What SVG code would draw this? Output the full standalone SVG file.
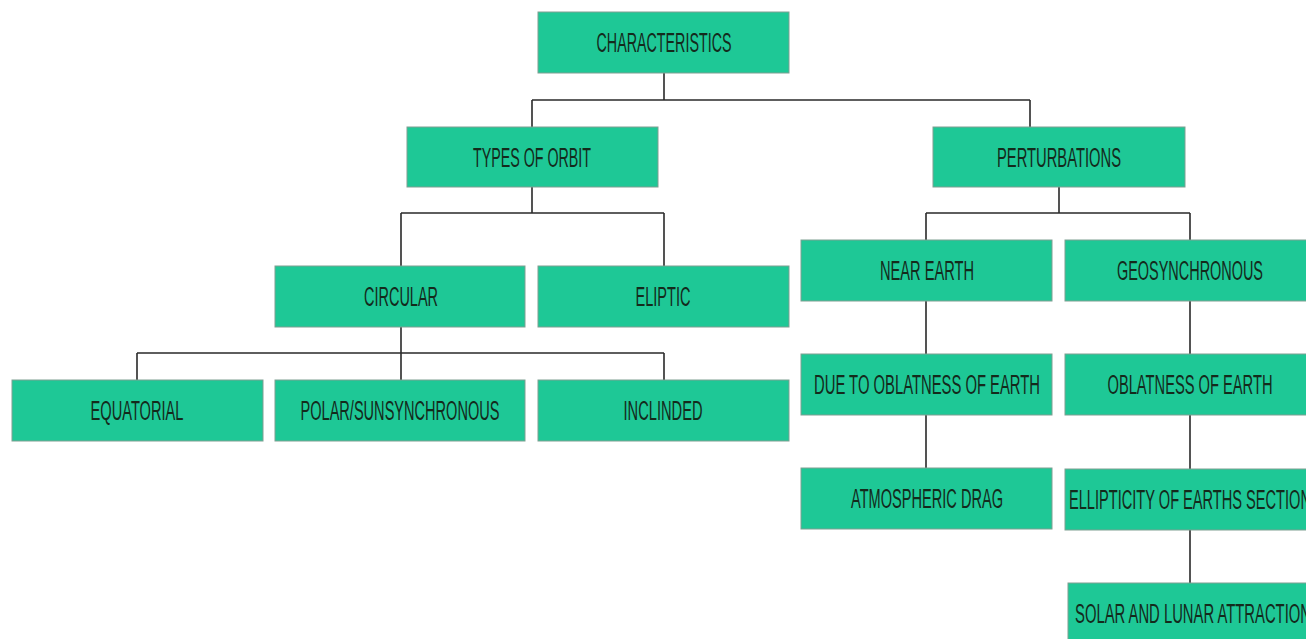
<svg xmlns="http://www.w3.org/2000/svg" width="1306" height="639" viewBox="0 0 1306 639">
<style>
.box{fill:#1ec896;stroke:#7f9f92;stroke-width:1}
.t{font-family:"Liberation Sans",Arial,sans-serif;font-size:27px;fill:#142a1c;text-anchor:middle}
.c{stroke:#2a2a2a;stroke-width:1.6;fill:none}
</style>
<rect width="1306" height="639" fill="#ffffff"/>
<g id="connectors">
<path class="c" d="M664 73V100M532 100H1030M532 100V127M1030 100V127"/>
<path class="c" d="M532 187V213M401 213H664M401 213V266M664 213V266"/>
<path class="c" d="M401 327V353M137 353H664M137 353V380M401 353V380M664 353V380"/>
<path class="c" d="M1059 187V213M926 213H1190M926 213V240M1190 213V240"/>
<path class="c" d="M926 301V354M926 415V468"/>
<path class="c" d="M1190 301V354M1190 415V469M1190 530V583"/>
</g>
<g id="characteristics"><rect class="box" x="538" y="12" width="251" height="61"/><text class="t" x="664" y="52" textLength="135" lengthAdjust="spacingAndGlyphs">CHARACTERISTICS</text></g>
<g id="types"><rect class="box" x="407" y="127" width="251" height="60"/><text class="t" x="532" y="167" textLength="118" lengthAdjust="spacingAndGlyphs">TYPES OF ORBIT</text></g>
<g id="perturbations"><rect class="box" x="933" y="127" width="252" height="60"/><text class="t" x="1059" y="167" textLength="124" lengthAdjust="spacingAndGlyphs">PERTURBATIONS</text></g>
<g id="circular"><rect class="box" x="275" y="266" width="250" height="61"/><text class="t" x="401" y="306" textLength="74" lengthAdjust="spacingAndGlyphs">CIRCULAR</text></g>
<g id="eliptic"><rect class="box" x="538" y="266" width="251" height="61"/><text class="t" x="663" y="306" textLength="55" lengthAdjust="spacingAndGlyphs">ELIPTIC</text></g>
<g id="equatorial"><rect class="box" x="12" y="380" width="251" height="61"/><text class="t" x="137" y="420" textLength="93" lengthAdjust="spacingAndGlyphs">EQUATORIAL</text></g>
<g id="polar"><rect class="box" x="275" y="380" width="250" height="61"/><text class="t" x="400" y="420" textLength="199" lengthAdjust="spacingAndGlyphs">POLAR/SUNSYNCHRONOUS</text></g>
<g id="inclinded"><rect class="box" x="538" y="380" width="251" height="61"/><text class="t" x="663" y="420" textLength="79" lengthAdjust="spacingAndGlyphs">INCLINDED</text></g>
<g id="near-earth"><rect class="box" x="801" y="240" width="251" height="61"/><text class="t" x="927" y="280" textLength="94" lengthAdjust="spacingAndGlyphs">NEAR EARTH</text></g>
<g id="geosynchronous"><rect class="box" x="1065" y="240" width="251" height="61"/><text class="t" x="1190" y="280" textLength="146" lengthAdjust="spacingAndGlyphs">GEOSYNCHRONOUS</text></g>
<g id="due-to-oblatness"><rect class="box" x="801" y="354" width="251" height="61"/><text class="t" x="927" y="394" textLength="226" lengthAdjust="spacingAndGlyphs">DUE TO OBLATNESS OF EARTH</text></g>
<g id="oblatness"><rect class="box" x="1065" y="354" width="251" height="61"/><text class="t" x="1190" y="394" textLength="165" lengthAdjust="spacingAndGlyphs">OBLATNESS OF EARTH</text></g>
<g id="atmospheric-drag"><rect class="box" x="801" y="468" width="251" height="61"/><text class="t" x="927" y="508" textLength="152" lengthAdjust="spacingAndGlyphs">ATMOSPHERIC DRAG</text></g>
<g id="ellipticity"><rect class="box" x="1065" y="469" width="251" height="61"/><text class="t" x="1190" y="509" textLength="242" lengthAdjust="spacingAndGlyphs">ELLIPTICITY OF EARTHS SECTION</text></g>
<g id="solar-lunar"><rect class="box" x="1068" y="583" width="251" height="61"/><text class="t" x="1193" y="623" textLength="236" lengthAdjust="spacingAndGlyphs">SOLAR AND LUNAR ATTRACTION</text></g>
</svg>
